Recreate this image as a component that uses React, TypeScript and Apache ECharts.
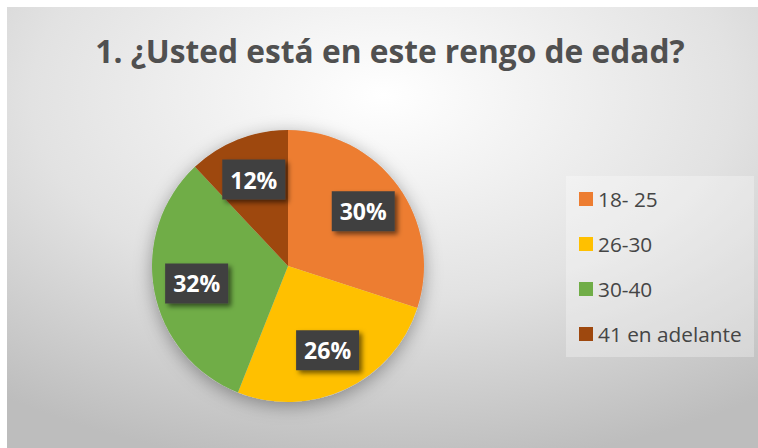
import React, { useEffect, useRef } from 'react';
import * as echarts from 'echarts';

const titleText = '1. ¿Usted está en este rengo de edad?';
const categories = ['18- 25', '26-30', '30-40', '41 en adelante'];
const values = [30, 26, 32, 12];
const colors = ['#ED7D31', '#FFC000', '#70AD47', '#9E480E'];

export default function App() {
  const ref = useRef<HTMLDivElement>(null);
  useEffect(() => {
    document.body.style.margin = '0';
    const chart = echarts.init(ref.current!, null, { renderer: 'svg' });
    const data = categories.map((name, i) => ({
      name,
      value: values[i],
      itemStyle: { color: colors[i] },
    }));
    const labelData = categories.map((name, i) => ({ name, value: values[i] }));
    const center = [288, 266];
    chart.setOption({
      animation: false,
      graphic: [
        {
          type: 'rect',
          z: 0,
          silent: true,
          shape: { x: 7, y: 7, width: 751, height: 441 },
          style: {
            fill: new echarts.graphic.RadialGradient(0.5, 0.2, 0.85, [
              { offset: 0, color: '#ffffff' },
              { offset: 0.55, color: '#e2e2e2' },
              { offset: 1, color: '#bdbdbd' },
            ]),
          },
        },
        {
          type: 'rect',
          z: 0,
          silent: true,
          shape: { x: 566, y: 176, width: 188, height: 181 },
          style: { fill: 'rgba(255,255,255,0.3)' },
        },
      ],
      title: {
        text: titleText,
        left: 390,
        top: 30,
        padding: 0,
        textAlign: 'center',
        textStyle: {
          fontFamily: 'Open Sans',
          fontWeight: 'bold',
          fontSize: 31.7,
          lineHeight: 40,
          color: '#505050',
        },
      },
      legend: {
        orient: 'vertical',
        left: 579,
        top: 188,
        padding: 0,
        itemWidth: 14,
        itemHeight: 14,
        itemGap: 23,
        icon: 'rect',
        data: categories,
        selectedMode: false,
        textStyle: {
          fontFamily: 'Open Sans',
          fontSize: 20.8,
          lineHeight: 22,
          color: '#454545',
          padding: [0, 0, 0, 0],
        },
      },
      series: [
        {
          type: 'pie',
          center,
          radius: 136,
          silent: true,
          z: 1,
          data: [{ value: 1, name: 'sombra' }],
          itemStyle: {
            color: '#d0d0d0',
            shadowBlur: 18,
            shadowOffsetY: 4,
            shadowColor: 'rgba(0,0,0,0.35)',
          },
          label: { show: false },
          labelLine: { show: false },
        },
        {
          type: 'pie',
          center,
          radius: 136,
          startAngle: 90,
          clockwise: true,
          silent: true,
          z: 2,
          data,
          label: { show: false },
          labelLine: { show: false },
        },
        {
          type: 'pie',
          center,
          radius: 180,
          startAngle: 90,
          clockwise: true,
          silent: true,
          z: 3,
          data: labelData,
          itemStyle: { color: 'rgba(0,0,0,0)' },
          labelLine: { show: false },
          label: {
            show: true,
            position: 'inside',
            formatter: '{c}%',
            fontFamily: 'Open Sans',
            fontWeight: 'bold',
            fontSize: 23,
            color: '#ffffff',
            backgroundColor: '#404040',
            width: 63,
            height: 40,
            lineHeight: 40,
            align: 'center',
            verticalAlign: 'middle',
            padding: 0,
            shadowColor: 'rgba(0,0,0,0.55)',
            shadowBlur: 5,
            shadowOffsetX: 3,
            shadowOffsetY: 3,
          },
        },
      ],
    });
    return () => chart.dispose();
  }, []);
  return (
    <div
      ref={ref}
      style={{ position: 'absolute', left: 0, top: 0, width: 758, height: 448 }}
    />
  );
}
